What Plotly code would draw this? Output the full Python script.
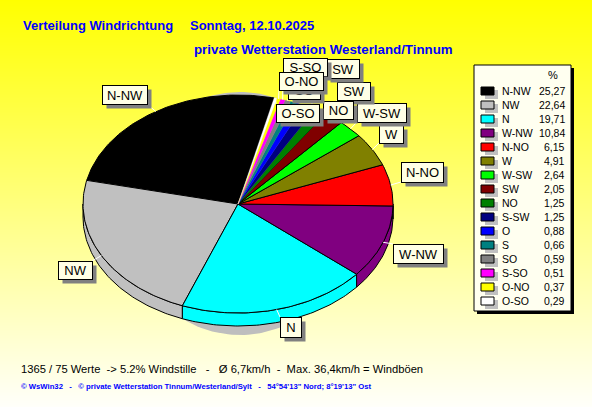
import numpy as np
import plotly.graph_objects as go

directions = ["N-NW", "NW", "N", "W-NW", "N-NO", "W", "W-SW", "SW", "NO", "S-SW", "O", "S", "SO", "S-SO", "O-NO", "O-SO"]
# what each callout visibly reads: the S-SW callout is covered up to "SW" by S-SO in the reference
callout_text = ["N-NW", "NW", "N", "W-NW", "N-NO", "W", "W-SW", "SW", "NO", "SW", "O", "S", "SO", "S-SO", "O-NO", "O-SO"]
percent = [25.27, 22.64, 19.71, 10.84, 6.15, 4.91, 2.64, 2.05, 1.25, 1.25, 0.88, 0.66, 0.59, 0.51, 0.37, 0.29]
percent_text = ["25,27", "22,64", "19,71", "10,84", "6,15", "4,91", "2,64", "2,05", "1,25", "1,25", "0,88", "0,66", "0,59", "0,51", "0,37", "0,29"]
colors = ["#000000", "#C0C0C0", "#00FFFF", "#800080", "#FF0000", "#808000", "#00FF00", "#800000",
          "#008000", "#000080", "#0000FF", "#008080", "#808080", "#FF00FF", "#FFFF00", "#FFFFFF"]

# label box geometry: x0, x1, y0, y1 in the pixel-sized axes
boxes = {
    "N-NW": (102, 147, 85, 104), "NW": (58, 92, 261, 279), "N": (280, 301, 317, 337),
    "W-NW": (393, 443, 244, 263), "N-NO": (401, 443, 162, 182), "W": (379, 403, 125, 143),
    "W-SW": (357, 406, 103, 122), "SW": (337, 370, 82, 100), "NO": (323, 353, 101, 119),
    "S-SW": (326, 359, 59, 78), "O": (292, 312, 106, 120), "S": (296, 316, 84, 98),
    "SO": (288, 320, 81, 99), "S-SO": (283, 327, 58, 76), "O-NO": (279, 323, 72, 90),
    "O-SO": (276, 319, 104, 122),
}

CX, CY, RX, RY, DEPTH, START = 238, 204, 155, 109, 13, 76.5
W, H = 592, 407
fig = go.Figure()

# background gradient
rows = np.arange(H) + 0.5
fig.add_trace(go.Heatmap(x=[0, W], y=rows, z=np.column_stack([rows, rows]), zmin=0, zmax=H,
                         colorscale=[[0, "#FFFF00"], [1, "#FFFFFA"]], showscale=False, hoverinfo="skip"))


def arc(a0, a1):
    t = np.radians(np.linspace(a0, a1, max(3, int(abs(a1 - a0)) + 2)))
    return CX + RX * np.cos(t), CY - RY * np.sin(t)


def poly(x, y, fill, line="#000000", lw=1.0):
    fig.add_trace(go.Scatter(x=x, y=y, mode="lines", fill="toself", fillcolor=fill,
                             line=dict(color=line, width=lw), hoverinfo="skip", showlegend=False))


# soft grey shadow behind the pie
t = np.radians(np.arange(0, 361, 2))
poly(240 + 115 * np.cos(t), 213.5 + 121.5 * np.sin(t), "#BEBEBE", "#BEBEBE", 0)

edges = START + np.cumsum([0] + percent) * 3.6

# rim of the pie (front half only)
for i, (a0, a1) in enumerate(zip(edges[:-1], edges[1:])):
    lo, hi = max(a0, 180), min(a1, 360)
    if hi > lo:
        x, y = arc(lo, hi)
        poly(np.r_[x, x[::-1], x[0]], np.r_[y, y[::-1] + DEPTH, y[0]], colors[i])

# top face
for i, (a0, a1) in enumerate(zip(edges[:-1], edges[1:])):
    x, y = arc(a0, a1)
    big = percent[i] >= 2
    poly(np.r_[CX, x, CX], np.r_[CY, y, CY], colors[i], "#000000" if big else colors[i], 1.0 if big else 0.3)

annotations, shapes = [], []

# leader lines
for i, name in enumerate(directions):
    mid = np.radians((edges[i] + edges[i + 1]) / 2)
    px, py = CX + RX * np.cos(mid), CY - RY * np.sin(mid)
    x0, x1, y0, y1 = boxes[name]
    shapes.append(dict(type="line", x0=px, y0=py, x1=np.clip(px, x0, x1), y1=np.clip(py, y0, y1),
                       line=dict(color="#FFFFFF", width=1), layer="above"))


def note(x, y, text, size=12, color="#000000", bold=False, anchor="left", family="Liberation Sans"):
    annotations.append(dict(x=x, y=y, xref="x", yref="y", text=f"<b>{text}</b>" if bold else text,
                            showarrow=False, xanchor=anchor, yanchor="middle",
                            font=dict(family=family, size=size, color=color), borderpad=0))


# pie labels, later ones over earlier ones
for name, label in zip(directions, callout_text):
    x0, x1, y0, y1 = boxes[name]
    common = dict(xref="x", yref="y", showarrow=False, xanchor="center", yanchor="middle", borderpad=0,
                  width=x1 - x0 - 1, height=y1 - y0 - 1)
    annotations.append(dict(x=(x0 + x1) / 2 + 4, y=(y0 + y1) / 2 + 4, text=" ", bgcolor="#808080", **common))
    annotations.append(dict(x=(x0 + x1) / 2, y=(y0 + y1) / 2, text=label, bgcolor="#FFFFE6",
                            bordercolor="#000000", borderwidth=1, align="center",
                            font=dict(family="Liberation Sans", size=13, color="#000000"), **common))

# legend panel
shapes.append(dict(type="rect", x0=477, x1=574, y0=68, y1=314, fillcolor="#000000", line_width=0, layer="above"))
shapes.append(dict(type="rect", x0=474, x1=571, y0=65, y1=311, fillcolor="#FFFFF0",
                   line=dict(color="#000000", width=1), layer="above"))
note(553, 75, "%", 11, anchor="center")
for i, name in enumerate(directions):
    yc = 91 + 14 * i
    shapes.append(dict(type="rect", x0=485, x1=498, y0=yc - 1, y1=yc + 8, fillcolor="#C0C0C0", line_width=0, layer="above"))
    shapes.append(dict(type="rect", x0=481, x1=494, y0=yc - 4, y1=yc + 4, fillcolor=colors[i],
                       line=dict(color="#000000", width=1), layer="above"))
    note(501, yc, name, 10.5)
    note(566, yc, percent_text[i], 10.5, anchor="right")

# titles and footers
note(22, 25, "Verteilung Windrichtung", 13, "#0000FF", True)
note(189, 25, "Sonntag, 12.10.2025", 13, "#0000FF", True)
note(193, 49, "private Wetterstation Westerland/Tinnum", 13.3, "#0000FF", True)
note(20, 369, "1365 / 75 Werte  -&gt; 5.2% Windstille   -   Ø 6,7km/h  -  Max. 36,4km/h = Windböen", 11.2)
note(20, 386, "© WsWin32   -   © private Wetterstation Tinnum/Westerland/Sylt   -   54°54'13\" Nord; 8°19'13\" Ost",
     7.7, "#0000FF", True)

fig.update_layout(
    width=W, height=H, margin=dict(l=0, r=0, t=0, b=0), showlegend=False,
    paper_bgcolor="#FFFFFF", plot_bgcolor="#FFFFFF",
    xaxis=dict(range=[0, W], visible=False, fixedrange=True),
    yaxis=dict(range=[H, 0], visible=False, fixedrange=True),
    shapes=shapes, annotations=annotations,
)
fig.write_html("out.html", config={"displayModeBar": False}, post_script="document.body.style.margin='0';")
